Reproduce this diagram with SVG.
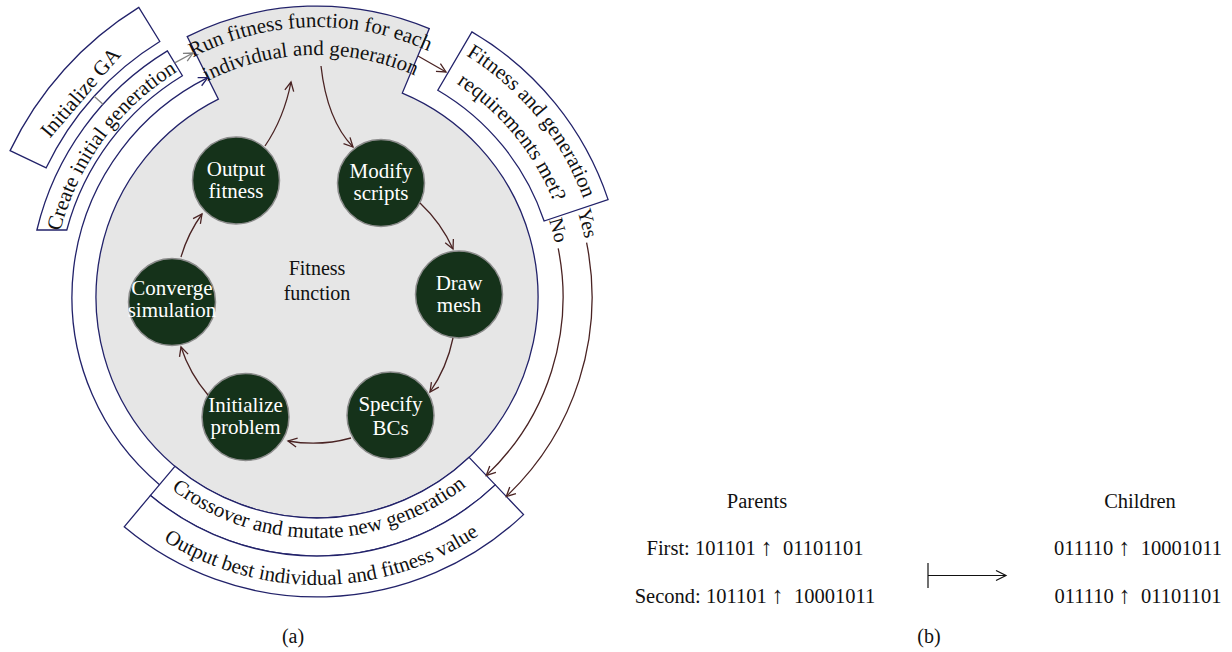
<svg xmlns="http://www.w3.org/2000/svg" width="1232" height="652" viewBox="0 0 1232 652">
<style>
text{font-family:"Liberation Serif","DejaVu Serif",serif;fill:#111;}
.box{fill:#fff;stroke:#22226a;stroke-width:1.3;}
.disk{fill:#e6e6e6;stroke:#22226a;stroke-width:1.3;}
.node circle{fill:#15321a;stroke:#8c8c8c;stroke-width:1.5;}
.node text{fill:#fff;font-size:21px;text-anchor:middle;}
.ring{font-size:21px;}
.lbl{font-size:20px;text-anchor:middle;}
.pb{font-size:20.5px;text-anchor:middle;}
.up{font-size:24px;}
.cm{fill:none;stroke:#4a2323;stroke-width:1.3;marker-end:url(#am);}
.cn{fill:none;stroke:#22226a;stroke-width:1.3;marker-end:url(#an);}
.cg{fill:none;stroke:#808080;stroke-width:1.3;}
.ck{fill:none;stroke:#111;stroke-width:1.2;}
</style>
<defs>
<marker id="am" viewBox="-10 -6 12 12" markerWidth="12" markerHeight="12" refX="0" refY="0" orient="auto" markerUnits="userSpaceOnUse"><path d="M-9,-4.5 L0,0 L-9,4.5" fill="none" stroke="#4a2323" stroke-width="1.3"/></marker>
<marker id="an" viewBox="-10 -6 12 12" markerWidth="12" markerHeight="12" refX="0" refY="0" orient="auto" markerUnits="userSpaceOnUse"><path d="M-9,-4.5 L0,0 L-9,4.5" fill="none" stroke="#22226a" stroke-width="1.3"/></marker>
<marker id="ag" viewBox="-10 -6 12 12" markerWidth="12" markerHeight="12" refX="0" refY="0" orient="auto" markerUnits="userSpaceOnUse"><path d="M-9,-4.5 L0,0 L-9,4.5" fill="none" stroke="#808080" stroke-width="1.3"/></marker>
<marker id="ak" viewBox="-12 -6 14 12" markerWidth="14" markerHeight="12" refX="0" refY="0" orient="auto" markerUnits="userSpaceOnUse"><path d="M-10,-5 L0,0 L-10,5" fill="none" stroke="#111" stroke-width="1.2"/></marker>
<path id="tp-run1" d="M176.5,66.9 A270,270 0 0,1 445.5,59.4"/>
<path id="tp-run2" d="M190.2,90.9 A242,242 0 0,1 432.1,84.1"/>
<path id="tp-fit1" d="M450.3,46.3 A284,284 0 0,1 589.2,215.9"/>
<path id="tp-fit2" d="M436.7,71.9 A255,255 0 0,1 561.4,224.1"/>
<path id="tp-create" d="M57.8,241.9 A265,265 0 0,1 186.5,66.3"/>
<path id="tp-cross" d="M155.7,476.1 A241,241 0 0,0 482,472.7"/>
<path id="tp-out" d="M131.9,517.6 A288,288 0 0,0 509.7,511"/>
</defs>
<rect width="1232" height="652" fill="#fff"/>

<g id="fitness-disk">
<path class="disk" d="M402.3,93.1 A221,221 0 1,1 218.4,99.2 L187.2,36.6 A291,291 0 0,1 429.3,28.6 Z"/>
<text class="ring" font-size="20"><textPath href="#tp-run1" startOffset="50%" text-anchor="middle">Run fitness function for each</textPath></text>
<text class="ring" font-size="20"><textPath href="#tp-run2" startOffset="50%" text-anchor="middle">individual and generation</textPath></text>
<text class="lbl" x="317" y="275" font-size="21">Fitness</text>
<text class="lbl" x="317" y="300" font-size="21">function</text>
</g>

<g id="initialize-ga">
<path class="box" d="M159.8,41.5 A300,300 0 0,0 46.2,167.8 L10.1,150.6 A340,340 0 0,1 138.8,7.4 Z"/>
<text class="ring" transform="translate(80,92) rotate(-49.3)" y="7.5" text-anchor="middle">Initialize GA</text>
</g>

<g id="create-initial">
<path class="box" d="M66.8,230 A259,259 0 0,1 182.4,75.7 L167.4,50.9 A288,288 0 0,0 36.9,230 Z"/>
<text class="ring"><textPath href="#tp-create" startOffset="50%" text-anchor="middle">Create initial generation</textPath></text>
</g>

<g id="fitness-check">
<path class="box" d="M437.8,90.2 A239.5,239.5 0 0,1 544.1,221 L608.1,199.6 A307,307 0 0,0 471.9,31.9 Z"/>
<text class="ring" font-size="20"><textPath href="#tp-fit1" startOffset="50%" text-anchor="middle">Fitness and generation</textPath></text>
<text class="ring" font-size="20"><textPath href="#tp-fit2" startOffset="50%" text-anchor="middle">requirements met?</textPath></text>
</g>

<g id="crossover">
<path class="box" d="M469.1,457.3 A221,221 0 0,1 174.9,466.3 L150.5,495.4 A259,259 0 0,0 495.3,484.9 Z"/>
<text class="ring"><textPath href="#tp-cross" startOffset="50%" text-anchor="middle">Crossover and mutate new generation</textPath></text>
</g>

<g id="output-best">
<path class="box" d="M495.3,484.9 A259,259 0 0,1 150.5,495.4 L124.2,526.8 A300,300 0 0,0 523.5,514.6 Z"/>
<text class="ring"><textPath href="#tp-out" startOffset="50%" text-anchor="middle">Output best individual and fitness value</textPath></text>
</g>

<g id="output-fitness" class="node"><circle cx="236" cy="180.5" r="43.5"/><text x="236" y="175.5">Output</text><text x="236" y="197.5">fitness</text></g>
<g id="modify-scripts" class="node"><circle cx="381" cy="183" r="43.5"/><text x="381" y="178">Modify</text><text x="381" y="200">scripts</text></g>
<g id="draw-mesh" class="node"><circle cx="459" cy="294.5" r="43.5"/><text x="459" y="289.5">Draw</text><text x="459" y="311.5">mesh</text></g>
<g id="specify-bcs" class="node"><circle cx="390.5" cy="415.5" r="43.5"/><text x="390.5" y="410.5">Specify</text><text x="390.5" y="434.5">BCs</text></g>
<g id="initialize-problem" class="node"><circle cx="245.5" cy="417" r="43.5"/><text x="245.5" y="412">Initialize</text><text x="245.5" y="434">problem</text></g>
<g id="converge-simulation" class="node"><circle cx="172" cy="302" r="43.5"/><text x="172" y="294.5">Converge</text><text x="172" y="317">simulation</text></g>

<g id="connectors">
<path class="cm" d="M265,146 Q284,118 291,82"/>
<path class="cm" d="M321,66 Q327,120 353,147"/>
<path class="cm" d="M420,203 A145,145 0 0,1 453,249"/>
<path class="cm" d="M453,338 A146,146 0 0,1 430,392"/>
<path class="cm" d="M351,438 A143,143 0 0,1 288,441"/>
<path class="cm" d="M208,395 A141,141 0 0,1 181,347"/>
<path class="cm" d="M181,257 A140,140 0 0,1 202,214"/>
<path class="cm" d="M418,56 L446,72"/>
<path class="cm" d="M558.2,248.4 A246,246 0 0,1 486.3,475.4"/>
<path class="cm" d="M586.6,242.6 A275,275 0 0,1 506.3,496.5"/>
<path class="cn" d="M159.5,484.7 A245,245 0 0,1 207.7,77.7"/>
<path class="cg" d="M174.7,62.9 L193,53" marker-end="url(#ag)"/>
<path class="cg" d="M103,104.3 L94.1,96.3"/>
<path class="ck" d="M928,563 L928,588 M928,575.5 L1006,575.5" marker-end="url(#ak)"/>
</g>

<g id="labels">
<text class="lbl" transform="translate(559,230) rotate(74.5)" y="7">No</text>
<text class="lbl" transform="translate(588,223) rotate(74.7)" y="7">Yes</text>
<text class="lbl" x="293" y="643">(a)</text>
<text class="lbl" x="929" y="643">(b)</text>
</g>

<g id="crossover-example">
<text class="pb" x="757" y="508">Parents</text>
<text class="pb" x="755" y="555" xml:space="preserve">First: 101101 <tspan class="up">↑</tspan>  01101101</text>
<text class="pb" x="755" y="603" xml:space="preserve">Second: 101101 <tspan class="up">↑</tspan>  10001011</text>
<text class="pb" x="1140" y="508">Children</text>
<text class="pb" x="1138" y="555" xml:space="preserve">011110 <tspan class="up">↑</tspan>  10001011</text>
<text class="pb" x="1138" y="603" xml:space="preserve">011110 <tspan class="up">↑</tspan>  01101101</text>
</g>
</svg>
